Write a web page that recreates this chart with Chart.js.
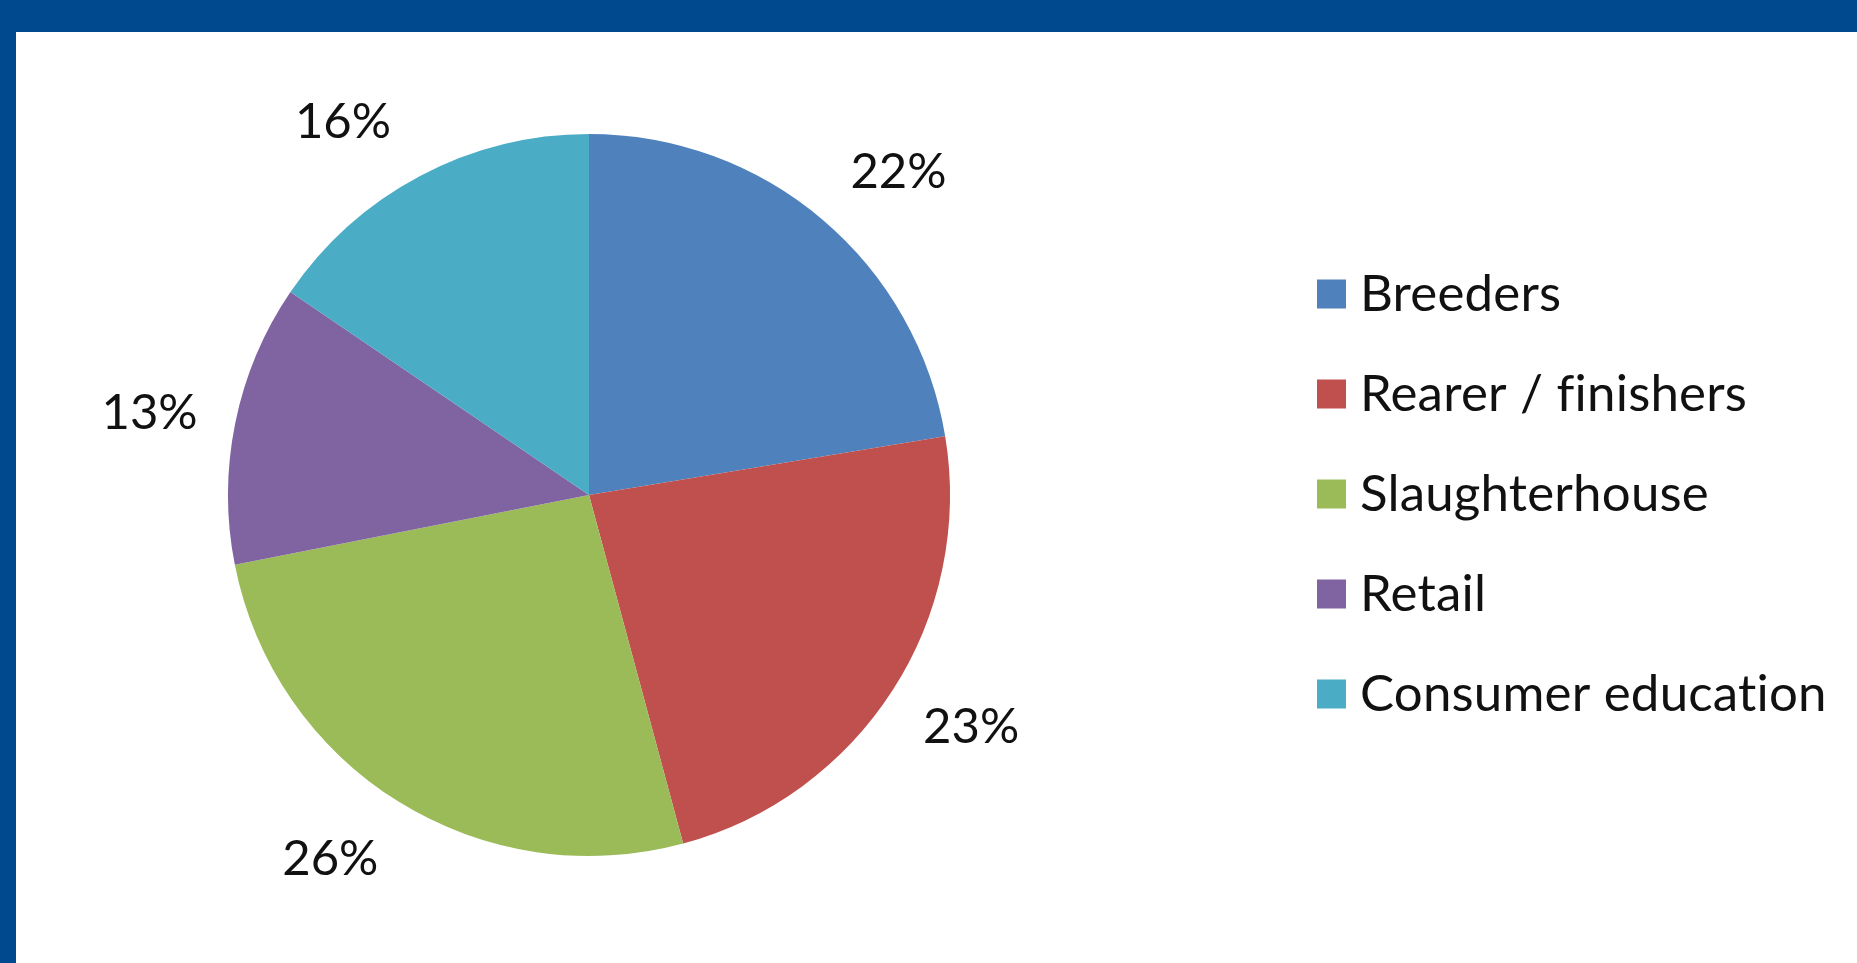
<!DOCTYPE html>
<html>
<head>
<meta charset="utf-8">
<script src="https://cdn.jsdelivr.net/npm/chart.js@4.4.0/dist/chart.umd.min.js"></script>
<style>
  html, body { margin: 0; padding: 0; width: 1857px; height: 963px; overflow: hidden; background: #ffffff; }
  #topbar { position: absolute; left: 0; top: 0; width: 1857px; height: 32px; background: #01498F; }
  #leftbar { position: absolute; left: 0; top: 0; width: 16px; height: 963px; background: #01498F; }
  #wrap { position: absolute; left: 0; top: 0; width: 1857px; height: 963px; }
</style>
</head>
<body>
<div id="topbar"></div>
<div id="leftbar"></div>
<div id="wrap"><canvas id="c"></canvas></div>
<script>
const categories = ["Breeders", "Rearer / finishers", "Slaughterhouse", "Retail", "Consumer education"];
const shares = [22.4, 23.4, 26.1, 12.6, 15.5];
const sliceColors = ["#4F81BD", "#C0504D", "#9BBB59", "#8064A2", "#4BACC6"];

const FONT = "Lato, 'Open Sans', sans-serif";

const outsideLabels = {
  id: 'outsideLabels',
  afterDatasetsDraw(chart, args, opts) {
    const ctx = chart.ctx;
    const meta = chart.getDatasetMeta(0);
    const total = chart.data.datasets[0].data.reduce((a, b) => a + b, 0);
    ctx.save();
    ctx.font = opts.size + "px " + FONT;
    ctx.fillStyle = opts.color;
    ctx.textAlign = 'center';
    ctx.textBaseline = 'middle';
    meta.data.forEach((arc, i) => {
      const p = arc.getProps(['x', 'y', 'startAngle', 'endAngle', 'outerRadius'], true);
      const mid = (p.startAngle + p.endAngle) / 2 + (opts.nudgeDeg[i] || 0) * Math.PI / 180;
      const r = p.outerRadius + opts.offset;
      const v = chart.data.datasets[0].data[i];
      const txt = Math.round(v / total * 100) + "%";
      ctx.fillText(txt, p.x + Math.cos(mid) * r, p.y + Math.sin(mid) * r);
    });
    ctx.restore();
  }
};

const customLegend = {
  id: 'customLegend',
  afterDraw(chart, args, opts) {
    const ctx = chart.ctx;
    const ds = chart.data.datasets[0];
    ctx.save();
    ctx.font = opts.size + "px " + FONT;
    if ('letterSpacing' in ctx) ctx.letterSpacing = '0.2px';
    ctx.textBaseline = 'middle';
    ctx.textAlign = 'left';
    chart.data.labels.forEach((lab, i) => {
      const cy = opts.top + i * opts.spacing;
      ctx.fillStyle = ds.backgroundColor[i];
      ctx.fillRect(opts.x, cy - opts.box / 2, opts.box, opts.box);
      ctx.fillStyle = opts.color;
      ctx.fillText(lab, opts.textX, cy + 1);
    });
    ctx.restore();
  }
};

new Chart(document.getElementById('c'), {
  type: 'pie',
  data: {
    labels: categories,
    datasets: [{
      data: shares,
      backgroundColor: sliceColors,
      borderWidth: 0
    }]
  },
  options: {
    responsive: true,
    maintainAspectRatio: false,
    animation: false,
    layout: { padding: { left: 228, top: 134, right: 907, bottom: 107 } },
    plugins: {
      legend: { display: false },
      tooltip: { enabled: false },
      outsideLabels: { size: 49, color: '#111111', offset: 86, nudgeDeg: [3.5, -1.5, 3.5, -1, -5.5] },
      customLegend: { x: 1317, box: 29, textX: 1360, top: 294, spacing: 100, size: 51, color: '#111111' }
    }
  },
  plugins: [outsideLabels, customLegend]
});
</script>
</body>
</html>
